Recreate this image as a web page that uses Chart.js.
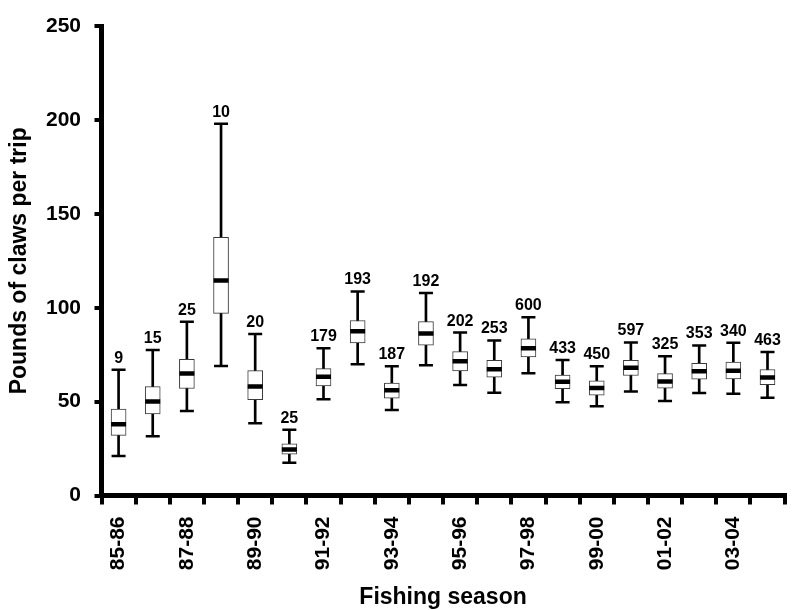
<!DOCTYPE html>
<html>
<head>
<meta charset="utf-8">
<script src="https://cdn.jsdelivr.net/npm/chart.js@4.4.1/dist/chart.umd.min.js"></script>
<style>
  html, body { margin: 0; padding: 0; background: #fff; overflow: hidden; }
  #wrap { width: 805px; height: 610px; }
</style>
</head>
<body>
<div id="wrap"><canvas id="c" width="805" height="610"></canvas></div>
<script>
// ---- Data ----
const seasons = ['85-86','86-87','87-88','88-89','89-90','90-91','91-92','92-93','93-94','94-95',
                 '95-96','96-97','97-98','98-99','99-00','00-01','01-02','02-03','03-04','04-05'];
const shownTickLabels = ['85-86','87-88','89-90','91-92','93-94','95-96','97-98','99-00','01-02','03-04'];
const tripCounts   = [9, 15, 25, 10, 20, 25, 179, 193, 187, 192, 202, 253, 600, 433, 450, 597, 325, 353, 340, 463];
const whiskerLow   = [21, 31.5, 45, 69, 38.5, 17.5, 51.2, 69.9, 45.6, 69.4, 58.8, 54.7, 65.1, 49.6, 47.5, 55.4, 50.3, 54.6, 54.2, 52.1];
const quartile1    = [32, 43.5, 57, 97, 51, 22, 58.4, 81.3, 51.9, 80.1, 66.4, 63, 73.8, 56.9, 53.5, 63.9, 57.2, 62, 62.1, 59];
const medianValue  = [38, 50, 65, 114.5, 58, 24.5, 63.2, 87.5, 56, 86.3, 71.5, 67.3, 78.4, 60.6, 57.2, 68, 60.7, 66.2, 66.4, 62.8];
const quartile3    = [46, 58, 72.5, 137.5, 66.5, 27.5, 67.6, 93.2, 59.9, 92.6, 76.6, 72, 83.5, 64.1, 61.1, 72, 64.9, 70.4, 71.1, 67.1];
const whiskerHigh  = [67, 77.5, 92.5, 198, 86, 35, 78.4, 108.7, 68.8, 107.8, 86.8, 82.6, 94.9, 72.2, 68.8, 81.5, 74.1, 79.9, 81.3, 76.4];
const yTicks       = [0, 50, 100, 150, 200, 250];

const FONT = "'Liberation Sans', Arial, Helvetica, sans-serif";

const countLabels = {
  id: 'countLabels',
  afterDatasetsDraw(chart) {
    const {ctx, scales: {x, y}} = chart;
    ctx.save();
    ctx.fillStyle = '#000';
    ctx.font = 'bold 16px ' + FONT;
    ctx.textAlign = 'center';
    ctx.textBaseline = 'alphabetic';
    tripCounts.forEach((n, i) => {
      ctx.fillText(String(n), x.getPixelForValue(i), y.getPixelForValue(whiskerHigh[i]) - 7);
    });
    ctx.restore();
  }
};

new Chart(document.getElementById('c'), {
  type: 'bar',
  data: {
    labels: seasons,
    datasets: [
      { // whisker line
        type: 'bar',
        data: seasons.map((_, i) => [whiskerLow[i], whiskerHigh[i]]),
        backgroundColor: '#000',
        borderWidth: 0,
        barThickness: 2,
        grouped: false,
        order: 4
      },
      { // box
        type: 'bar',
        data: seasons.map((_, i) => [quartile1[i], quartile3[i]]),
        backgroundColor: '#fff',
        borderColor: '#3a3a3a',
        borderWidth: 1,
        borderSkipped: false,
        barThickness: 15,
        grouped: false,
        order: 3
      },
      { // median
        type: 'line',
        data: medianValue,
        showLine: false,
        pointStyle: 'line',
        pointRadius: 7.5,
        pointBorderWidth: 4.5,
        pointBorderColor: '#000',
        order: 1
      },
      { // lower cap
        type: 'line',
        data: whiskerLow,
        showLine: false,
        pointStyle: 'line',
        pointRadius: 7,
        pointBorderWidth: 2.5,
        pointBorderColor: '#000',
        order: 2
      },
      { // upper cap
        type: 'line',
        data: whiskerHigh,
        showLine: false,
        pointStyle: 'line',
        pointRadius: 7,
        pointBorderWidth: 2.5,
        pointBorderColor: '#000',
        order: 2
      }
    ]
  },
  options: {
    responsive: false,
    animation: false,
    events: [],
    layout: { padding: { top: 23, left: 0, right: 0, bottom: 0 } },
    plugins: { legend: { display: false }, tooltip: { enabled: false } },
    scales: {
      x: {
        offset: true,
        grid: { display: true, offset: true, drawOnChartArea: false, drawTicks: true,
                tickLength: 9, lineWidth: 4, color: '#000' },
        border: { display: true, color: '#000', width: 5 },
        ticks: {
          autoSkip: false, minRotation: 90, maxRotation: 90, padding: 12,
          color: '#000', font: { family: FONT, size: 21, weight: 'bold' },
          callback: function(val, idx) {
            const lab = seasons[idx];
            return shownTickLabels.includes(lab) ? lab : '';
          }
        },
        title: { display: true, text: 'Fishing season', color: '#000',
                 font: { family: FONT, size: 23, weight: 'bold', lineHeight: 1.05 },
                 padding: { top: 0, bottom: 0 } },
        afterFit(scale) { scale.height = 114.5; }
      },
      y: {
        min: 0, max: 250,
        afterBuildTicks(scale) { scale.ticks = yTicks.map(v => ({ value: v })); },
        grid: { display: true, drawOnChartArea: false, drawTicks: true,
                tickLength: 7, lineWidth: 4, color: '#000' },
        border: { display: true, color: '#000', width: 5 },
        ticks: { padding: 13.5, color: '#000', font: { family: FONT, size: 21, weight: 'bold' } },
        title: { display: true, text: 'Pounds of claws per trip', color: '#000',
                 font: { family: FONT, size: 23, weight: 'bold', lineHeight: 1.05 },
                 padding: { top: 8, bottom: 0 } },
        afterFit(scale) { scale.width = 101.5; }
      }
    }
  },
  plugins: [countLabels]
});
</script>
</body>
</html>
